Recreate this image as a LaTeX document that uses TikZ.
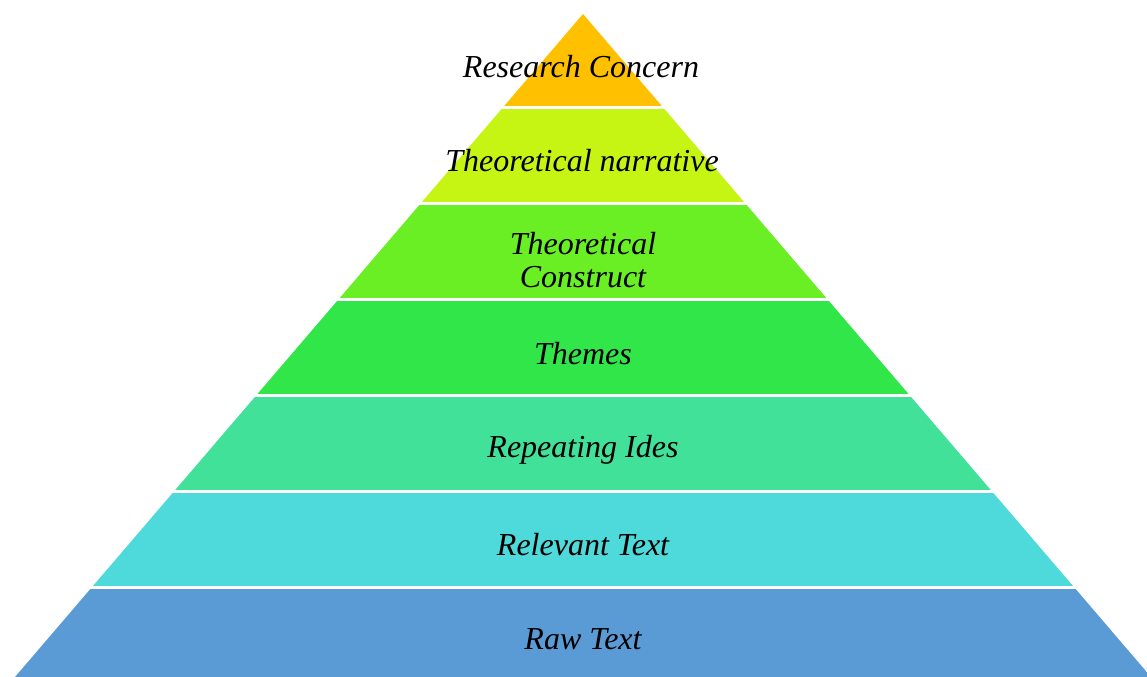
\documentclass[tikz,border=0pt]{standalone}
\usepackage{fontspec}
\setmainfont{Liberation Serif}
\usepackage{xcolor}

\definecolor{lvlA}{HTML}{FFC000}
\definecolor{lvlB}{HTML}{C6F514}
\definecolor{lvlC}{HTML}{6AEE24}
\definecolor{lvlD}{HTML}{30E648}
\definecolor{lvlE}{HTML}{42E19A}
\definecolor{lvlF}{HTML}{4ED9DB}
\definecolor{lvlG}{HTML}{5B9BD5}

\begin{document}
\begin{tikzpicture}[x=0.75pt,y=0.75pt]
 	\tikzstyle{every node}+=[inner sep=0pt, align=center, font=\fontsize{24}{25}\selectfont\itshape]
 	\useasboundingbox (0,0) rectangle (1147,677);
 	% the pyramid, cut into bands
 	\begin{scope}
 	\clip (583,663) -- (15,0) -- (1151,0) -- cycle;
 	\fill [lvlG] (0,0) rectangle (1147,88);
 	\fill [lvlF] (0,91) rectangle (1147,184);
 	\fill [lvlE] (0,187) rectangle (1147,280);
 	\fill [lvlD] (0,283) rectangle (1147,376);
 	\fill [lvlC] (0,379) rectangle (1147,472);
 	\fill [lvlB] (0,475) rectangle (1147,568);
 	\fill [lvlA] (0,571) rectangle (1147,663);
 	\end{scope}
 	% labels
 	\node (concern) at (581,610) {Research Concern};
 	\node (narrative) at (582,516) {Theoretical narrative};
 	\node (construct) at (583,417) {Theoretical\\Construct};
 	\node (themes) at (583,323) {Themes};
 	\node (ideas) at (583,227) {Repeating Ides};
 	\node (relevant) at (583,132) {Relevant Text};
 	\node (raw) at (583,38) {Raw Text};
 	\end{tikzpicture}
\end{document}
